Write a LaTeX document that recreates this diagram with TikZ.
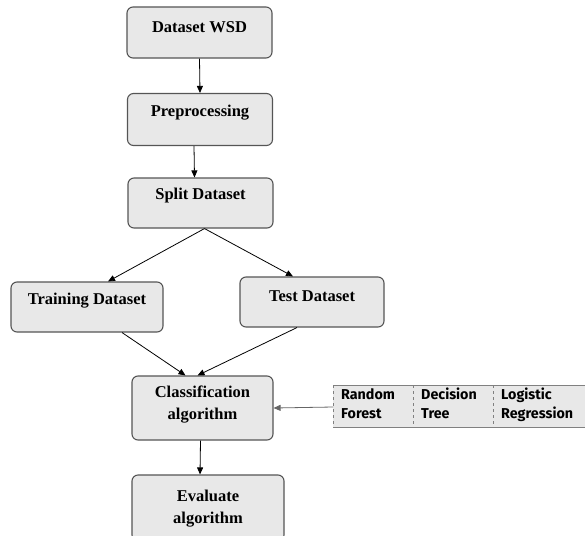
\documentclass[tikz,border=0pt]{standalone}
\usepackage{fontspec}
\setmainfont{Liberation Serif}
\newfontfamily\tabfont{Fira Sans}
\usetikzlibrary{arrows.meta}
\definecolor{boxfill}{HTML}{E8E8E8}
\definecolor{boxdraw}{HTML}{555555}
\tikzset{
  box/.style={draw=boxdraw, fill=boxfill, rounded corners=6pt, line width=1.1pt, inner sep=0pt},
  lbl/.style={font=\bfseries\fontsize{16.5}{22}\selectfont, align=center, inner sep=0pt},
  conn/.style={-{Triangle[length=7pt,width=6pt]}, line width=0.8pt, black},
  tabtxt/.style={font=\tabfont\bfseries\fontsize{14.3}{19}\selectfont, align=left, anchor=north west, inner sep=0pt}
}
\begin{document}
\begin{tikzpicture}[x=1pt,y=-1pt]
\useasboundingbox (0,0) rectangle (585,535);
% boxes
\node[box, minimum width=145pt, minimum height=51pt] (ds) at (199.5,32.5) {};
\node[lbl] at (199.5,27) {Dataset WSD};
\node[box, minimum width=145pt, minimum height=52pt] (pp) at (200,119.5) {};
\node[lbl] at (200,113) {Preprocessing};
\node[box, minimum width=145pt, minimum height=50pt] (sp) at (200.5,203) {};
\node[lbl] at (200.5,196) {Split Dataset};
\node[box, minimum width=152pt, minimum height=50pt] (tr) at (87,307) {};
\node[lbl] at (87,301) {Training Dataset};
\node[box, minimum width=144pt, minimum height=50pt] (te) at (312,302) {};
\node[lbl] at (312,296) {Test Dataset};
\node[box, minimum width=141pt, minimum height=64pt] (cl) at (202.5,408) {};
\node[lbl] at (202.5,404.5) {Classification\\algorithm};
\node[box, minimum width=152pt, minimum height=66pt] (ev) at (208,508) {};
\node[lbl] at (208,508.5) {Evaluate\\algorithm};
% table
\coordinate (tl) at (333,385);
\coordinate (br) at (585,427);
\fill[boxfill] (tl) rectangle (br);
\draw[gray, line width=0.9pt] (333,385) -- (585,385);
\draw[gray, line width=0.9pt] (333,427) -- (585,427);
\draw[gray, dashed, line width=0.5pt] (333,385) -- (333,427);
\draw[gray, dashed, line width=0.5pt] (413,385) -- (413,427);
\draw[gray, dashed, line width=0.5pt] (493,385) -- (493,427);
\node[tabtxt] (rf) at (341,388) {Random\\Forest};
\node[tabtxt] (dt) at (421,388) {Decision\\Tree};
\node[tabtxt] (lr) at (501,388) {Logistic\\Regression};
\coordinate (tabin) at (333,407);
% connectors
\draw[conn] (ds.south) -- (pp.north);
\draw[conn] ([xshift=-6pt]pp.south) -- ([xshift=-6pt]sp.north);
\draw[conn] ([xshift=4pt]sp.south) -- ([xshift=21pt]tr.north);
\draw[conn] ([xshift=4pt]sp.south) -- ([xshift=-19pt]te.north);
\draw[conn] ([xshift=35pt]tr.south) -- ([xshift=-17pt]cl.north);
\draw[conn] ([xshift=-15pt]te.south) -- ([xshift=-5pt]cl.north);
\draw[conn] ([xshift=-2pt]cl.south) -- ([xshift=-8pt]ev.north);
\draw[conn, gray!80!black] (tabin) -- (cl.east);
\end{tikzpicture}
\end{document}
